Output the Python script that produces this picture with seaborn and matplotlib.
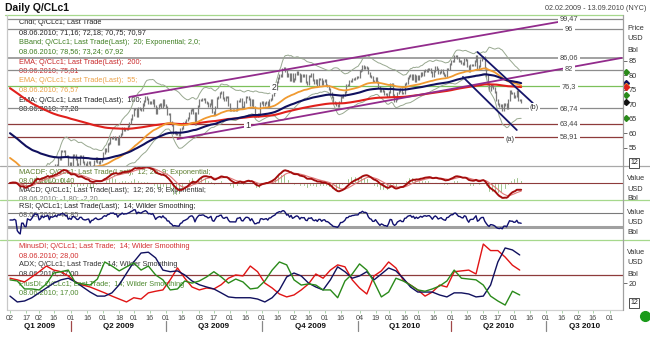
import numpy as np
import pandas as pd
import matplotlib
matplotlib.use("Agg")
import matplotlib.pyplot as plt
from matplotlib.lines import Line2D
import seaborn as sns

sns.set_style("white")
plt.rcParams["font.family"] = ["Liberation Sans", "DejaVu Sans"]

W, H = 650, 362

# ------------------------------------------------------------------ data
# daily closes Q/CLc1, one list per month
feb09 = [40.1, 40.8, 41.2, 40.3, 40.2, 37.6, 35.9, 34.0, 37.5, 37.5,
         34.9, 34.6, 39.5, 38.9, 38.4, 40.0, 42.5, 45.2, 44.8, 44.8]
mar09 = [40.2, 41.7, 45.4, 43.6, 45.5, 45.7, 47.1, 42.3, 47.0, 46.3, 47.4,
         49.2, 48.1, 51.6, 51.1, 53.8, 54.0, 53.8, 52.4, 52.4, 48.4, 49.7]
apr09 = [48.4, 52.6, 52.5, 51.1, 49.2, 49.4, 52.2, 52.2, 50.1, 49.4, 49.3,
         50.0, 50.3, 45.9, 48.6, 48.9, 50.6, 51.6, 50.1, 49.9, 50.6, 51.1]
may09 = [53.2, 54.5, 54.0, 56.3, 56.7, 58.6, 58.5, 58.9, 58.0, 58.6, 56.3,
         59.0, 59.7, 62.0, 61.1, 61.7, 61.7, 62.5, 63.5, 65.1, 66.3]
jun09 = [68.6, 68.6, 66.1, 68.8, 68.4, 68.1, 70.0, 71.3, 72.7, 72.0, 70.6,
         71.0, 70.5, 71.4, 69.6, 66.9, 68.7, 69.7, 70.2, 69.2, 71.5, 69.9]
jul09 = [69.3, 66.7, 66.7, 64.1, 62.9, 60.1, 60.4, 59.9, 59.7, 59.5, 61.5, 61.9,
         63.6, 64.0, 64.7, 65.4, 67.2, 68.1, 68.4, 67.2, 63.4, 66.9, 69.5]
aug09 = [71.6, 71.4, 72.0, 71.9, 70.9, 70.6, 69.5, 70.2, 71.4, 67.5, 66.8,
         69.2, 72.4, 72.5, 73.9, 74.4, 72.1, 71.4, 72.5, 72.7, 70.0]
sep09 = [68.1, 68.1, 68.0, 68.0, 68.0, 71.1, 71.3, 72.0, 69.3, 69.0, 70.9,
         72.5, 72.5, 72.0, 69.7, 71.6, 69.0, 65.9, 66.0, 66.8, 66.7, 70.6]
oct09 = [70.8, 70.0, 70.4, 70.9, 69.6, 71.7, 71.8, 73.3, 74.2, 75.2, 77.9,
         79.0, 80.3, 80.0, 82.4, 82.6, 81.6, 79.7, 80.4, 78.4, 80.6, 78.0]
nov09 = [78.9, 80.4, 81.2, 80.4, 78.2, 80.2, 79.9, 80.1, 77.7, 77.2, 79.9,
         79.7, 80.4, 78.3, 77.5, 78.4, 76.8, 78.8, 78.8, 76.9, 78.1]
dec09 = [78.4, 76.6, 76.5, 75.5, 73.9, 72.6, 70.7, 70.5, 69.9, 69.5, 70.7, 72.7,
         72.7, 73.4, 74.4, 76.7, 76.7, 78.1, 78.1, 78.8, 78.9, 79.3, 79.4]
jan10 = [79.4, 81.5, 81.8, 83.2, 82.7, 82.8, 82.5, 80.8, 79.7, 79.4, 78.0,
         78.0, 79.0, 77.6, 76.1, 74.5, 75.3, 74.7, 73.7, 73.6, 72.9]
feb10 = [74.4, 77.2, 77.0, 73.1, 71.2, 71.9, 73.8, 74.5, 75.3, 74.1,
         74.1, 77.0, 77.3, 79.1, 79.8, 80.2, 78.9, 80.0, 78.2, 79.7]
mar10 = [78.7, 79.7, 80.9, 80.2, 81.5, 81.9, 81.5, 82.1, 82.1, 81.2, 79.8, 81.7,
         82.9, 82.2, 80.7, 81.3, 81.9, 80.9, 80.3, 80.0, 82.2, 82.4, 83.8]
apr10 = [84.9, 84.9, 86.6, 86.8, 85.9, 85.0, 84.9, 84.3, 84.1, 85.8, 85.5,
         83.2, 81.5, 83.5, 83.7, 83.7, 85.1, 86.8, 82.4, 83.2, 85.2, 86.2]
may10 = [86.2, 82.7, 80.0, 77.1, 75.1, 76.8, 76.4, 75.7, 74.4, 71.6, 70.1,
         69.4, 69.9, 68.0, 70.0, 70.2, 68.8, 71.5, 74.6, 74.0, 74.0]
jun10 = [72.6, 72.9, 74.6, 71.5, 71.4, 70.97]

close = np.array(feb09 + mar09 + apr09 + may09 + jun09 + jul09 + aug09 + sep09
                 + oct09 + nov09 + dec09 + jan10 + feb10 + mar10 + apr10
                 + may10 + jun10)

# EMA values on 02.02.2009 (left edge of the picture)
ema200_start = 76.0
ema100_start = 60.5
ema55_start = 52.0

# DMI (14, Wilder) read weekly, every 5th trading day
adx = [12, 8.4, 9, 11, 14, 17, 20, 22, 23, 20.7, 17.6, 14.5, 12, 12, 14, 19, 26,
       33, 38.5, 39, 35.5, 28, 27, 27.5, 25, 21.3, 19, 17.6, 16.4, 14, 11.5, 11,
       11, 11, 10.2, 8.4, 11, 15.8, 23.8, 26.2, 24.4, 20, 17.6, 15.8, 22, 30, 27,
       23, 24.4, 27, 22, 25.6, 29.3, 27.5, 23, 17.6, 14.5, 14.5, 14.5, 12.7, 11.5,
       14, 14, 13.3, 11.5, 12, 18.8, 33, 41.6, 40.4, 37.3]
minus_di = [23, 22, 20.7, 23.8, 27, 30.5, 28, 27, 24.4, 20.7, 18.8, 17.6, 15.8, 14,
            12, 10.2, 8.4, 11, 10.2, 14, 15, 15.8, 22, 29.3, 23, 17.6, 15.8, 17,
            16.4, 19, 23, 25, 24.4, 30.5, 27, 20, 17, 13.3, 11.5, 12.7, 15.8, 19.5,
            25.6, 23, 28, 31.2, 30, 22, 17, 13.3, 24.4, 27.5, 33, 29.3, 22, 18.8,
            15.8, 12, 14.5, 18.8, 17.6, 27, 27.5, 28, 25.6, 44, 40, 40, 36, 31, 28]
plus_di = [22, 21.3, 16.4, 16.4, 15.8, 19.5, 26.2, 27, 28, 20, 19.5, 18.8, 22.5, 33,
           30.5, 27.5, 30, 32.4, 28, 30.5, 25, 22, 15.8, 16.4, 21.3, 20, 21.3, 23.8,
           27, 23.8, 20, 22.5, 20.7, 16.4, 17, 21.3, 28, 33, 31.2, 22, 18.8, 19.5,
           18.8, 15.8, 15.8, 11, 21.3, 25.6, 31.8, 28, 20.7, 11.5, 14.5, 23, 21.3,
           18.8, 15.8, 15, 16.4, 18.2, 21.3, 28, 23, 22.5, 22, 18.8, 12, 9, 6.5,
           15, 12.7]

# drawn levels and trend lines
levels = [99.47, 96, 86.06, 82, 76.3, 68.74, 63.44, 58.91]
level_labels = ["99,47", "96", "86,06", "82", "76,3", "68,74", "63,44", "58,91"]
level_colors = ["#8c8c8c", "#8c8c8c", "#9a9a9a", "#8c8c8c", "#7cc05a",
                "#8c8c8c", "#8e3b3b", "#8e3b3b"]
trend_lines = [
    (("2009-05-27", 72.6), ("2010-07-29", 99.47), "#922b8c"),
    (("2009-07-13", 58.1), ("2010-09-13", 86.06), "#922b8c"),
    (("2010-04-27", 88.1), ("2010-06-18", 70.5), "#16166a"),
    (("2010-04-13", 79.5), ("2010-06-03", 61.2), "#16166a"),
]
waves = [("1", "2009-09-17", 62.9), ("2", "2009-10-13", 75.7),
         ("(a)", "2010-05-27", 57.8), ("(b)", "2010-06-21", 69.1)]

tick_dates = ["2009-02-02", "2009-02-17", "2009-03-02", "2009-03-16", "2009-04-01",
              "2009-04-16", "2009-05-01", "2009-05-18", "2009-06-01", "2009-06-16",
              "2009-07-01", "2009-07-16", "2009-08-03", "2009-08-17", "2009-09-01",
              "2009-09-16", "2009-10-01", "2009-10-16", "2009-11-02", "2009-11-16",
              "2009-12-01", "2009-12-16", "2010-01-04", "2010-01-19", "2010-02-01",
              "2010-02-16", "2010-03-01", "2010-03-16", "2010-04-01", "2010-04-16",
              "2010-05-03", "2010-05-17", "2010-06-01", "2010-06-16", "2010-07-01",
              "2010-07-16", "2010-08-02", "2010-08-16", "2010-09-01"]
quarters = ["Q1 2009", "Q2 2009", "Q3 2009", "Q4 2009", "Q1 2010", "Q2 2010", "Q3 2010"]
quarter_starts = ["2009-04-01", "2009-07-01", "2009-10-01", "2010-01-01",
                  "2010-04-01", "2010-07-01"]

# ------------------------------------------------------------------ indicators
days = pd.bdate_range("2009-02-02", "2010-09-13")
pos = lambda d: days.get_loc(pd.Timestamp(d))
i = np.arange(len(close))
s = pd.Series(close)


def ema(series, n, start=None):
    if start is not None:
        series = pd.concat([pd.Series([start]), series], ignore_index=True)
        return series.ewm(span=n, adjust=False).mean().iloc[1:].to_numpy()
    return series.ewm(span=n, adjust=False).mean().to_numpy()


ema200 = ema(s, 200, ema200_start)
ema100 = ema(s, 100, ema100_start)
ema55 = ema(s, 55, ema55_start)
bb_mid = ema(s, 20)
bb_sd = s.ewm(span=20, adjust=False).std().bfill().to_numpy()
bb_up, bb_lo = bb_mid + 2 * bb_sd, bb_mid - 2 * bb_sd

macd = ema(s, 12) - ema(s, 26)
signal = ema(pd.Series(macd), 9)
hist = macd - signal

delta = s.diff().fillna(0)
up = delta.clip(lower=0).ewm(alpha=1 / 14, adjust=False).mean()
dn = (-delta.clip(upper=0)).ewm(alpha=1 / 14, adjust=False).mean()
rsi = (100 - 100 / (1 + up / dn.replace(0, np.nan))).fillna(50).to_numpy()

dmi = pd.DataFrame({"i": np.arange(0, 5 * len(adx), 5), "adx": adx,
                    "minus": minus_di, "plus": plus_di})

# ------------------------------------------------------------------ figure
fig = plt.figure(figsize=(W / 100, H / 100), dpi=100)


def box(top, bot):
    return [7 / W, 1 - bot / H, 616 / W, (bot - top) / H]


ax_p = fig.add_axes(box(15, 166))
ax_m = fig.add_axes(box(166, 200))
ax_h = ax_m.twinx()          # MACDF histogram on its own scale
ax_r = fig.add_axes(box(200, 240))
ax_d = fig.add_axes(box(240, 310))
px2i = 412 / 600
for ax in (ax_p, ax_m, ax_h, ax_r, ax_d):
    ax.set_xlim((7 - 10) * px2i, (623 - 10) * px2i)
    for sp in ax.spines.values():
        sp.set_visible(False)
    ax.set_xticks([])
    ax.set_yticks([])
    ax.set_facecolor("none")

ax_p.set_ylim(48.79, 100.86)
ax_m.set_ylim(-4.25, 4.25)
ax_h.set_ylim(-2.1, 2.1)
ax_r.set_ylim(-7.1, 107.1)
ax_d.set_ylim(3.46, 46.5)

# price panel
for lv, lab, c in zip(levels, level_labels, level_colors):
    ax_p.axhline(lv, color=c, lw=1.3 if lab == "86,06" else 0.9, zorder=2)
    ax_p.text(384, lv, lab, fontsize=5.3, color="#444", ha="center", va="center",
              zorder=6, bbox=dict(fc="white", ec="none", pad=1.2))

opens = np.r_[close[0], close[:-1]]
ax_p.vlines(i, np.minimum(opens, close) - 0.35, np.maximum(opens, close) + 0.35,
            color="#7a7a7a", lw=0.9, zorder=3)
for y in (bb_up, bb_lo):
    sns.lineplot(x=i, y=y, ax=ax_p, color="#98a890", lw=0.7, zorder=3)
sns.lineplot(x=i, y=ema200, ax=ax_p, color="#e0201c", lw=1.5, zorder=4)
sns.lineplot(x=i, y=ema55, ax=ax_p, color="#f09a30", lw=1.3, zorder=4)
sns.lineplot(x=i, y=ema100, ax=ax_p, color="#10105e", lw=1.5, zorder=4)
for (d0, v0), (d1, v1), c in trend_lines:
    ax_p.plot([pos(d0), pos(d1)], [v0, v1], color=c, lw=1.3, zorder=5)
for lab, d, v in waves:
    ax_p.text(pos(d), v, lab, fontsize=6.3 if len(lab) == 1 else 5.3, color="#333",
              ha="center", va="center", zorder=7,
              bbox=dict(fc="white", ec="none", pad=0.6))

last = [(bb_up[-1], "#2a8a1a"), (ema100[-1], "#10105e"), (ema55[-1], "#f09a30"),
        (ema200[-1], "#e0201c"), (bb_mid[-1], "#2a8a1a"), (close[-1], "#111"),
        (bb_lo[-1], "#2a8a1a")]
for v, c in last:
    ax_p.plot([(626 - 10) * px2i], [v], marker="D", ms=3, color=c, clip_on=False,
              zorder=8)

ax_p.yaxis.tick_right()
ax_p.set_yticks([55, 60, 65, 70, 75, 80, 85])
ax_p.tick_params(axis="y", right=True, length=3, width=0.6, color="#555",
                 labelsize=5.3, labelcolor="#333", pad=1)

# MACD panel
ax_m.axhline(0, color="#8e3b3b", lw=0.8)
ax_h.bar(i, hist, width=1.0, color="#3f8a1c", zorder=2)
sns.lineplot(x=i, y=signal, ax=ax_m, color="#e07878", lw=0.8, zorder=3)
sns.lineplot(x=i, y=macd, ax=ax_m, color="#a50d0d", lw=1.4, zorder=3)
ax_m.set_zorder(ax_h.get_zorder() + 1)

# RSI panel
ax_r.axhline(70, color="#7a7a7a", lw=0.8)
ax_r.axhline(30, color="#a0a0a0", lw=2.2)
sns.lineplot(x=i, y=rsi, ax=ax_r, color="#10106e", lw=1.0, zorder=3)

# DMI panel
ax_d.axhline(25, color="#8e3b3b", lw=0.9)
sns.lineplot(data=dmi, x="i", y="minus", ax=ax_d, color="#e01414", lw=1.0)
sns.lineplot(data=dmi, x="i", y="adx", ax=ax_d, color="#10105e", lw=1.0)
sns.lineplot(data=dmi, x="i", y="plus", ax=ax_d, color="#2a8a1a", lw=1.0)
ax_d.yaxis.tick_right()
ax_d.set_yticks([20])
ax_d.tick_params(axis="y", right=True, length=3, width=0.6, color="#555",
                 labelsize=5.3, labelcolor="#333", pad=1)
ax_d.set_xticks([pos(d) for d in tick_dates])
ax_d.set_xticklabels([d[-2:] for d in tick_dates])
ax_d.tick_params(axis="x", bottom=True, length=2, width=0.6, color="#9c9",
                 labelsize=5.2, labelcolor="#444", pad=1.5)
for ax in (ax_p, ax_m, ax_h, ax_r, ax_d):
    ax.set_xlabel("")
    ax.set_ylabel("")


# legends written on the panels
def note(ax, top, bot, py, txt, c):
    ax.text(12 / 616, (bot - py) / (bot - top), txt, transform=ax.transAxes,
            fontsize=5.3, color=c, va="center", zorder=1)


green_t = "#3f7f22"
note(ax_p, 15, 166, 23, "Cndl; Q/CLc1; Last Trade", "#222")
note(ax_p, 15, 166, 33, "08.06.2010; 71,16; 72,18; 70,75; 70,97", "#222")
note(ax_p, 15, 166, 43, "BBand; Q/CLc1; Last Trade(Last);  20; Exponential; 2,0;", green_t)
note(ax_p, 15, 166, 52, "08.06.2010; 78,56; 73,24; 67,92", green_t)
note(ax_p, 15, 166, 62, "EMA; Q/CLc1; Last Trade(Last);  200;", "#c8282a")
note(ax_p, 15, 166, 71, "08.06.2010; 75,81", "#c8282a")
note(ax_p, 15, 166, 81, "EMA; Q/CLc1; Last Trade(Last);  55;", "#eba24a")
note(ax_p, 15, 166, 90, "08.06.2010; 76,57", "#eba24a")
note(ax_p, 15, 166, 100, "EMA; Q/CLc1; Last Trade(Last);  100;", "#222")
note(ax_p, 15, 166, 109, "08.06.2010; 77,28", "#222")
note(ax_m, 166, 200, 172, "MACDF; Q/CLc1; Last Trade(Last);  12; 26; 9; Exponential;", "#5f7f30")
note(ax_m, 166, 200, 181, "08.06.2010; 0,40", "#5f7f30")
note(ax_m, 166, 200, 190, "MACD; Q/CLc1; Last Trade(Last);  12; 26; 9; Exponential;", "#333")
note(ax_m, 166, 200, 199, "08.06.2010; -1,80; -2,20", "#777")
note(ax_r, 200, 240, 207, "RSI; Q/CLc1; Last Trade(Last);  14; Wilder Smoothing;", "#222")
note(ax_r, 200, 240, 215, "08.06.2010; 40,85", "#555")
note(ax_d, 240, 310, 246, "MinusDI; Q/CLc1; Last Trade;  14; Wilder Smoothing", "#d23030")
note(ax_d, 240, 310, 256, "08.06.2010; 28,00", "#d23030")
note(ax_d, 240, 310, 265, "ADX; Q/CLc1; Last Trade;  14; Wilder Smoothing", "#333")
note(ax_d, 240, 310, 274, "08.06.2010; 37,00", "#333")
note(ax_d, 240, 310, 284, "PlusDI; Q/CLc1; Last Trade;  14; Wilder Smoothing", "#4f8a30")
note(ax_d, 240, 310, 293, "08.06.2010; 17,00", "#4f8a30")


# frame lines and outer texts
def hline(py, xa, xb, c, lw=0.9):
    fig.add_artist(Line2D([xa / W, xb / W], [1 - py / H] * 2, color=c, lw=lw,
                          transform=fig.transFigure))


def vline(px, ya, yb, c, lw=0.9):
    fig.add_artist(Line2D([px / W] * 2, [1 - ya / H, 1 - yb / H], color=c, lw=lw,
                          transform=fig.transFigure))


hline(15, 5, 623, "#a6d88c")
hline(166, 0, 650, "#a8a8a8")
hline(200, 0, 650, "#a6d88c")
hline(240, 0, 650, "#a6d88c")
hline(310, 7, 623, "#d0d0d0")
vline(7, 15, 310, "#c8c8c8")
vline(623, 15, 310, "#a0a0a0")

q_px = [10 + pos(d) / px2i for d in quarter_starts]
for d, x in zip(quarter_starts, q_px):
    vline(x, 321, 331, "#a04848" if d[5:7] == "04" else "#888888")
edges = [7] + q_px + [623]
for q, a, b in zip(quarters, edges[:-1], edges[1:]):
    fig.text((a + b) / 2 / W, 1 - 327 / H, q, fontsize=5.8, weight="bold",
             ha="center", va="center", color="#111")

fig.text(5 / W, 1 - 8 / H, "Daily Q/CLc1", fontsize=7.5, weight="bold",
         va="center", color="#111")
fig.text(646 / W, 1 - 8 / H, "02.02.2009 - 13.09.2010 (NYC)", fontsize=5.2,
         ha="right", va="center", color="#444")
for txt, py in [("Price", 29), ("USD", 39), ("Bbl", 50),
                ("Value", 179), ("USD", 189), ("Bbl", 198),
                ("Value", 213), ("USD", 223), ("Bbl", 233),
                ("Value", 253), ("USD", 263), ("Bbl", 274)]:
    fig.text(627 / W, 1 - py / H, txt, fontsize=5.3, va="center", color="#333",
             zorder=0)
for py in (163, 303):
    fig.text(630 / W, 1 - py / H, "12", fontsize=5, va="center", color="#222",
             bbox=dict(boxstyle="square,pad=0.15", fc="white", ec="#333", lw=0.6))
fig.add_artist(Line2D([645 / W], [1 - 316 / H], marker="o", ms=7, color="#1a9a1a",
                      transform=fig.transFigure))

fig.savefig("out.png", dpi=100)
